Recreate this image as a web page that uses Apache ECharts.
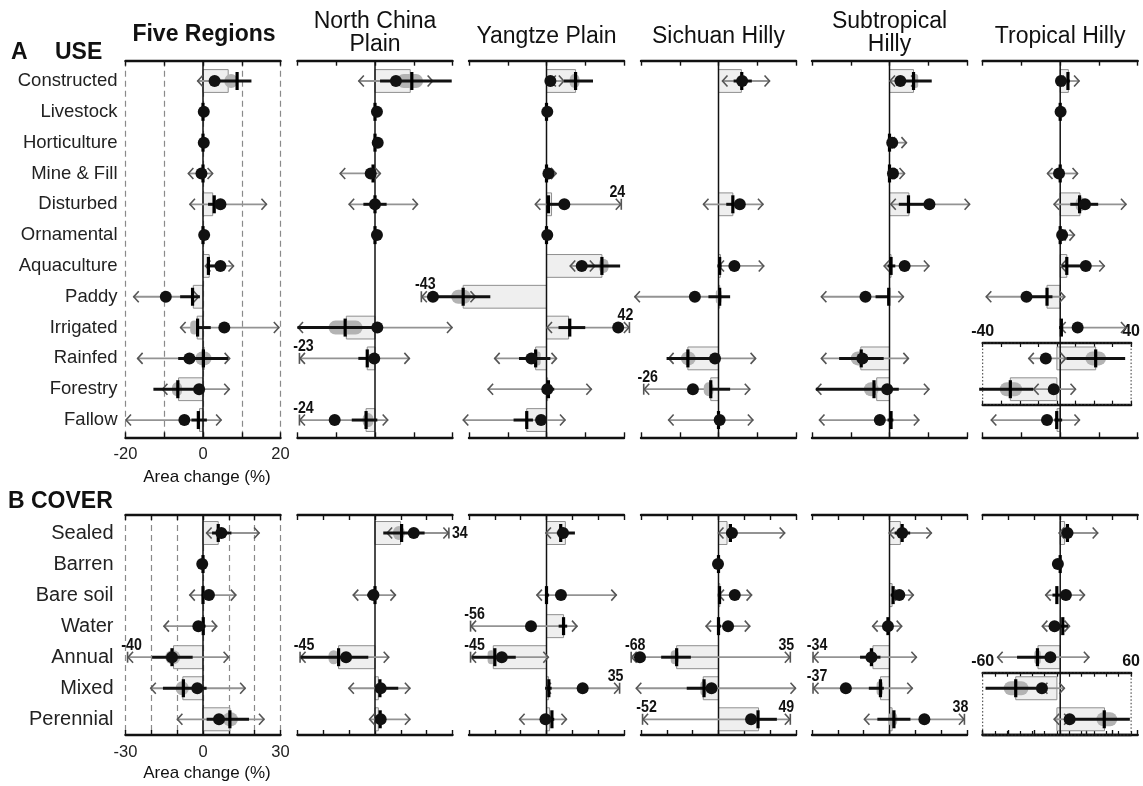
<!DOCTYPE html>
<html><head><meta charset="utf-8">
<script src="https://cdn.jsdelivr.net/npm/echarts@6/dist/echarts.min.js"></script>
<style>html,body{margin:0;padding:0;background:#fff}#c{width:1143px;height:786px}</style>
</head><body><div id="c"></div>
<script>
const _ = null;
const useCats = ['Constructed','Livestock','Horticulture','Mine & Fill','Disturbed','Ornamental','Aquaculture','Paddy','Irrigated','Rainfed','Forestry','Fallow'];
const coverCats = ['Sealed','Barren','Bare soil','Water','Annual','Mixed','Perennial'];
const regionTitles = ['Five Regions','North China\nPlain','Yangtze Plain','Sichuan Hilly','Subtropical\nHilly','Tropical Hilly'];
const useTicks = ['-20','0','20'];
const coverTicks = ['-30','0','30'];
const useInsetTicks = ['-40','40'];
const coverInsetTicks = ['-60','60'];

// item: [bar, median, dot, blackLo, blackHi, greyLo, greyHi, pillLo, pillHi, cutLo, cutHi, labelSide]
const useFive = [
 [6.5, 8.8, 3, 3, 12.5, -1.5, 8.5, 5.5, 9, _, _],
 [0, 0, 0.2, -0.3, 0.6, _, _, _, _, _, _],
 [0, 0, 0.2, -0.3, 0.6, _, _, _, _, _, _],
 [0, 0, -0.4, -0.8, 0.5, -3.9, 2.6, _, _, _, _],
 [2.5, 2.9, 4.5, 1.3, 4.9, -3.5, 16.5, _, _, _, _],
 [0, 0, 0.3, -0.3, 0.7, _, _, _, _, _, _],
 [1.6, 1.4, 4.5, 1, 5.5, 0.5, 8, _, _, _, _],
 [-2.5, -2.7, -9.6, -5.9, -0.8, -18, -1, _, _, _, _],
 [-1.5, -1.4, 5.5, -1.5, 2, -5.9, 19.7, -3.3, -1.2, _, _],
 [0.3, 0.1, -3.5, -6.4, 6.5, -17, 7, -2, 2.2, _, _],
 [-6.3, -6.5, -1, -12.8, -0.8, -10.6, 6.9, -8, -5.4, _, _],
 [-0.9, -1.2, -4.8, -3, 1, -20, 4.8, _, _, _, _]
];
const useNCP = [
 [9.1, 9.5, 5.4, 1.3, 19.8, -4.3, 15, 5.6, 12.4, _, _],
 [0, 0, 0.5, -0.3, 0.8, _, _, _, _, _, _],
 [0, 0, 0.7, -0.3, 1, _, _, _, _, _, _],
 [0, -0.5, -1.1, -1.5, 0.2, -9.1, 1.5, _, _, _, _],
 [0, 0, 0, -3, 3, -6.8, 11.1, _, _, _, _],
 [0, 0, 0.5, -0.3, 0.8, _, _, _, _, _, _],
 _,
 _,
 [-7.4, -7.7, 0.6, -20, 0.6, -20, 20, -12, -3.2, _, _],
 [-2, -2, -0.2, -4.3, 0, -23, 9, _, _, -19.5, _],
 _,
 [-2.3, -2.3, -10.4, -6, 0.6, -24, 3.4, -3.2, -0.4, -19.5, _]
];
const useYP = [
 [7.5, 7.5, 1, 4.5, 12, 1, 4.6, 6, 8.5, _, _],
 [0, 0, 0.2, -0.3, 0.6, _, _, _, _, _, _],
 _,
 [0, 0, 0.5, -0.3, 0.8, 0, 2.6, _, _, _, _],
 [1.3, 0.5, 4.6, 0, 4.6, -3, 24, _, _, _, 19.3],
 [0, 0, 0.2, -0.3, 0.6, _, _, _, _, _, _],
 [14.3, 14.3, 9.1, 9.1, 19, 6, 12.6, 13.5, 16, _, _],
 [-21.5, -21.5, -29.3, -29.3, -14.5, -43, -18.2, -24.6, -19.5, -32.3, _],
 [5.7, 6, 18.5, 3.1, 10, 0, 42, _, _, _, 21.4],
 [-2.8, -2.8, -3.9, -7.1, 1, -13.5, 2.7, -3, -1.5, _, _],
 [0.3, 0.5, 0.2, -1, 2, -15.2, 11.7, _, _, _, _],
 [-5.1, -5.1, -1.4, -8.5, -3.5, -21.6, 4.9, _, _, _, _]
];
const useSH = [
 [5.9, 6, 6.1, 3.9, 8.6, 0.9, 13.3, _, _, _, _],
 _, _, _,
 [3.7, 3.7, 5.5, 2, 5.5, -4, 11.6, _, _, _, _],
 _,
 [0.5, 0.3, 4.1, -0.3, 0.8, 0, 11.8, _, _, _, _],
 [0.3, 0.3, -6.1, -2.6, 3, -21.7, 1, -0.7, 0.8, _, _],
 _,
 [-7.9, -7.9, -0.9, -13.4, -0.9, -13, 9.7, -9.7, -5.9, _, _],
 [-2, -2, -6.6, -2, 3, -26, 8.2, -3.8, -1.3, -19.3, _],
 [0, 0, 0.3, -0.3, 0.8, -13, 9, _, _, _, _]
];
const useSTH = [
 [6.2, 6.2, 2.8, 2, 10.9, 0, 7, 6.1, 7.4, _, _],
 _,
 [0, 0, 0.7, -0.3, 1, 0, 4.5, _, _, _, _],
 [0, 0, 0.9, -0.3, 1, 0, 4, _, _, _, _],
 [5, 4.9, 10.3, 2.4, 10.3, 0.2, 20.8, _, _, _, _],
 _,
 [0.4, 0.4, 3.9, -0.5, 1.5, -1.5, 10.3, _, _, _, _],
 [0, -0.2, -6.2, -3.6, 0, -17.7, 3.7, -0.6, 0.2, _, _],
 _,
 [-7.4, -7.3, -7, -13, -1.5, -17.7, 5, -10, -6.2, _, _],
 [-3.3, -4, -0.6, -19, 2.4, -19, 10.3, -6.6, -2.8, _, _],
 [0, 0.4, -2.5, -0.5, 1, -18.2, 7.7, _, _, _, _]
];
const useTH = [
 [2.1, 2, 0.2, -0.3, 2.5, -0.5, 5, _, _, _, _],
 [0, 0, 0.1, -0.3, 0.6, _, _, _, _, _, _],
 _,
 [0, 0, -0.3, -0.6, 0.4, -3.4, 4.6, _, _, _, _],
 [5.1, 5, 6.4, 2.6, 9.8, -1.7, 17.1, 4, 6.5, _, _],
 [0, 0, 0.5, -0.3, 0.8, 0, 3.8, _, _, _, _],
 [1.7, 1.7, 6.6, 0.5, 6.6, 0, 11.5, _, _, _, _],
 [-3.4, -3.4, -8.7, -8.7, -2, -19.2, 1.3, _, _, _, _],
 [0, 0.3, 4.5, -0.3, 0.8, 0, 17.1, _, _, _, _],
 _, _,
 [-0.8, -0.9, -3.4, -1.5, 0.5, -17.9, 5.1, _, _, _, _]
];
// Tropical Hilly Rainfed & Forestry on a -40..40 inset scale
const useTHInset = [
 [20.9, 20.9, -6, 5.1, 36.8, -15.4, 5, 15.4, 26.5, _, _],
 [-25.1, -25.1, -1.7, -41.9, -12.8, -12.8, 10.3, -30.8, -18.8, _, _]
];

const covFive = [
 [5.9, 5.9, 7.1, 3.5, 11, 1.2, 21.9, _, _, _, _],
 [0, 0, -0.3, -0.6, 0.4, _, _, _, _, _, _],
 [0, 0, 2.3, -0.5, 1, -5.3, 12.9, _, _, _, _],
 [0, 0.1, -1.8, -1, 1, -15.3, 5.5, _, _, _, _],
 [-11.4, -12, -12, -19.7, -4, -40, 10.1, -14.6, -8.8, -29.2, _],
 [-7.8, -7.6, -2.2, -15.5, 1.4, -20.4, 16.5, -10.6, -5.5, _, _],
 [10.4, 10.4, 6.2, 1.4, 17.8, -10.1, 23.8, 7.7, 13.5, _, _]
];
const covNCP = [
 [9.9, 10.3, 15, 3.2, 19.2, 4.5, 34, 7, 11.5, _, 28.6, 'r'],
 _,
 [0, 0, -0.6, -3, 0.5, -8.6, 8.1, _, _, _, _],
 _,
 [-14.1, -14.1, -11.2, -28.8, -2.6, -45, 5.5, -18, -14, -29, _],
 [1.3, 1.9, 2.2, 0, 9, -10.3, 13.7, _, _, _, _],
 [1.3, 2, 2.2, 0, 3, -2.3, 13.7, _, _, _, _]
];
const covYP = [
 [7.3, 5.5, 6.4, 4, 11, -0.4, 8, _, _, _, _],
 _,
 [0, 0, 5.6, -0.3, 1, -3.9, 27.2, _, _, _, _],
 [6.6, 6.6, -6, 4.7, 8, -56, 12, _, _, -29.4, _],
 [-20.6, -20, -17.3, -28.8, -11.9, -45, 0.9, -22.8, -20, -29.4, _],
 [0.8, 0.9, 14, -0.5, 2, -0.4, 35, _, _, _, 28.3],
 [1.2, 2.1, -0.4, -1, 3, -10.6, 7.9, _, _, _, _]
];
const covSH = [
 [3.3, 4.6, 5.2, 3, 7, -0.2, 25.8, _, _, _, _],
 [0, 0, -0.2, -0.5, 0.4, _, _, _, _, _, _],
 [0.5, 0.4, 6.3, -0.3, 1, 0, 13, _, _, _, _],
 [0, 0, 3.7, -0.5, 1, -5, 12.3, _, _, _, _],
 [-16.2, -16.2, -30.4, -22.2, -10.7, -68, 35, -18.5, -15.4, -33.8, 27.8],
 [-5.9, -5.6, -2.7, -12.3, -2.7, -32, 30, -7, -4.6, _, _],
 [15.5, 15.3, 12.6, 12.6, 22.6, -52, 49, _, _, -29.4, 27.8]
];
const covSTH = [
 [4.2, 4.9, 4.9, 2, 8, -0.3, 16.4, _, _, _, _],
 _,
 [1, 1.4, 3.8, 0.5, 2, 0.5, 9.4, _, _, _, _],
 [0, -0.6, -0.6, -1.5, 0.5, -6.7, 4.9, _, _, _, _],
 [-6.4, -7, -7, -11.4, -3.5, -34, 10.6, _, _, -29.6, _],
 [-3.5, -3.5, -16.9, -8, -2.2, -37, 9, -5, -2.5, -29.6, _],
 [1, 1.7, 13.5, -4.7, 8.1, -9.9, 38, -0.5, 3, _, 29]
];
const covTH = [
 [1.7, 2.8, 2.8, 0.5, 5, -0.6, 14.7, _, _, _, _],
 [0, 0, -0.9, -1.3, 0, _, _, _, _, _, _],
 [0, -1.3, 2.2, -3, 1, -5.8, 9.6, _, _, _, _],
 [0, 1, -2.2, -1, 3, -7.1, 3.8, _, _, _, _],
 [-8.6, -8.8, -3.8, -16.7, -3.8, -24.4, 11.3, -10, -7.5, _, _],
 _, _
];
// Tropical Hilly Mixed & Perennial on a -60..60 inset scale
const covTHInset = [
 [-33.3, -33.3, -12.1, -57.7, -12.1, -12.1, 6.4, -43, -23, _, _],
 [38.5, 38.3, 10.3, 10.3, 59, -2.6, 10.3, 32, 48.7, _, _]
];

const useData = [useFive, useNCP, useYP, useSH, useSTH, useTH];
const covData = [covFive, covNCP, covYP, covSH, covSTH, covTH];

// ---------- layout ----------
const panelLeft = [125.5, 297.5, 469, 641, 812, 982.7];
const panelW = 155;
const rowA = {top: 60.7, bottom: 437.3, yMin: -0.659, yMax: 11.56, xMin: -20, xMax: 20};
const rowB = {top: 515, bottom: 735, yMin: -0.58, yMax: 6.506, xMin: -30, xMax: 30};
const FONT = "'Liberation Sans', Arial, Helvetica, sans-serif";
const NARROW = "'Liberation Sans Narrow', 'Arial Narrow', 'Liberation Sans', sans-serif";

const grids = [], xAxes = [], yAxes = [], series = [];

function makeRender(rows, offset, isMain, isInset) {
  return function (params, api) {
    const i = params.dataIndex;
    const r = rows[i];
    const cs = params.coordSys;
    const kids = [];
    const yv = i + offset;
    const cy = api.coord([0, yv])[1];
    const X = v => api.coord([v, yv])[0];
    const band = api.size([0, 1])[1];
    if (i === 0 && isMain) {
      const xz = X(0);
      kids.push({type: 'line', z2: 2, shape: {x1: xz, y1: cs.y, x2: xz, y2: cs.y + cs.height},
        style: {stroke: '#111', lineWidth: 1.5}});
    }
    if (i === 0 && isInset) {
      kids.push({type: 'rect', z2: 0, shape: {x: cs.x, y: cs.y, width: cs.width, height: cs.height},
        style: {fill: 'none', stroke: '#333', lineWidth: 1, lineDash: [1.5, 2]}});
    }
    if (!r) return {type: 'group', children: kids};
    const [b, m, d, bl, bh, gl, gh, pl, ph, kl, kh, side] = r;
    const x0 = X(0);
    if (b !== null && b !== 0) {
      const xb = X(b);
      const h = band * 0.74;
      kids.push({type: 'rect', z2: 1, shape: {x: Math.min(x0, xb), y: cy - h / 2, width: Math.abs(xb - x0), height: h},
        style: {fill: '#efefef', stroke: '#8f8f8f', lineWidth: 1}});
    }
    const chev = 5.5;
    const arrowStyle = {stroke: '#555', lineWidth: 1.6, fill: 'none'};
    const labFont = 'bold 16.5px ' + NARROW;
    const sx = 0.86;
    if (gl !== null && gh !== null) {
      const xl = X(kl !== null ? kl : gl), xh = X(kh !== null ? kh : gh);
      kids.push({type: 'line', z2: 3, shape: {x1: xl, y1: cy, x2: xh, y2: cy}, style: {stroke: '#939393', lineWidth: 1.8}});
      kids.push({type: 'polyline', z2: 3, shape: {points: [[xl + chev, cy - chev], [xl + 0.5, cy], [xl + chev, cy + chev]]}, style: arrowStyle});
      kids.push({type: 'polyline', z2: 3, shape: {points: [[xh - chev, cy - chev], [xh - 0.5, cy], [xh - chev, cy + chev]]}, style: arrowStyle});
      if (kl !== null) {
        kids.push({type: 'line', z2: 3, shape: {x1: xl, y1: cy - chev, x2: xl, y2: cy + chev}, style: arrowStyle});
        kids.push({type: 'text', z2: 8, x: xl + 4, y: cy - 12, scaleX: sx,
          style: {text: String(gl), font: labFont, fill: '#111', align: 'center', verticalAlign: 'middle', textAlign: 'center', textVerticalAlign: 'middle'}});
      }
      if (kh !== null) {
        kids.push({type: 'line', z2: 3, shape: {x1: xh, y1: cy - chev, x2: xh, y2: cy + chev}, style: arrowStyle});
        if (side === 'r') {
          kids.push({type: 'text', z2: 8, x: xh + 3, y: cy, scaleX: sx,
            style: {text: String(gh), font: labFont, fill: '#111', align: 'left', verticalAlign: 'middle', textAlign: 'left', textVerticalAlign: 'middle'}});
        } else {
          kids.push({type: 'text', z2: 8, x: xh - 4, y: cy - 12, scaleX: sx,
            style: {text: String(gh), font: labFont, fill: '#111', align: 'center', verticalAlign: 'middle', textAlign: 'center', textVerticalAlign: 'middle'}});
        }
      }
    }
    if (pl !== null && ph !== null) {
      const a = X(pl), c = X(ph);
      kids.push({type: 'rect', z2: 4, shape: {x: a, y: cy - 7, width: c - a, height: 14, r: 7}, style: {fill: '#b3b3b3'}});
    }
    if (bl !== null && bh !== null) {
      kids.push({type: 'line', z2: 5, shape: {x1: X(bl), y1: cy, x2: X(bh), y2: cy}, style: {stroke: '#111', lineWidth: 3}});
    }
    if (m !== null) {
      const xm = X(m);
      kids.push({type: 'line', z2: 6, shape: {x1: xm, y1: cy - 9, x2: xm, y2: cy + 9}, style: {stroke: '#000', lineWidth: 3.2}});
    }
    if (d !== null) {
      kids.push({type: 'circle', z2: 7, shape: {cx: X(d), cy: cy, r: 6}, style: {fill: '#111'}});
    }
    return {type: 'group', children: kids};
  };
}

function addPanel(o) {
  const g = grids.length;
  grids.push({left: o.left, top: o.top, width: panelW, height: o.height, show: false, containLabel: false});
  const common = {
    gridIndex: g, type: 'value', min: o.xMin, max: o.xMax, interval: 10,
    axisLine: {show: true, onZero: false, lineStyle: {color: '#111', width: 2.4}},
    axisTick: {show: true, inside: true, length: 5, lineStyle: {color: '#111', width: 1.4}},
    splitLine: {show: false}, axisLabel: {show: false}
  };
  const bottom = Object.assign({}, common, {position: 'bottom'});
  if (o.five) {
    bottom.axisLabel = {show: true, color: '#222', fontSize: 16.5, fontFamily: FONT, margin: 9,
      showMinLabel: true, showMaxLabel: true,
      formatter: v => (o.ticks.indexOf(String(v)) >= 0 ? String(v) : '')};
    bottom.splitLine = {show: true, lineStyle: {type: [6, 4], color: '#8a8a8a', width: 1.2}};
  }
  const top = Object.assign({}, common, {position: 'top'});
  if (o.inset) {
    top.axisLabel = {show: true, color: '#111', fontSize: 16, fontWeight: 'bold', fontFamily: NARROW, margin: 3,
      showMinLabel: true, showMaxLabel: true,
      formatter: v => (o.insetTicks.indexOf(String(v)) >= 0 ? String(v) : '')};
    top.axisTick = {show: true, inside: true, length: 4, lineStyle: {color: '#111', width: 1.2}};
    bottom.axisTick = {show: true, inside: true, length: 4, lineStyle: {color: '#111', width: 1.2}};
  }
  const xb = xAxes.length;
  xAxes.push(bottom, top);
  const y = {gridIndex: g, type: 'value', min: o.yMin, max: o.yMax, inverse: true,
    axisLine: {show: false}, axisTick: {show: false}, splitLine: {show: false}, axisLabel: {show: false}};
  if (o.five) {
    y.axisLabel = {show: true, customValues: o.cats.map((c, k) => k), formatter: v => o.cats[Math.round(v)],
      color: '#222', fontSize: o.catSize, fontFamily: FONT, margin: o.catMargin};
  }
  yAxes.push(y);
  series.push({
    type: 'custom', xAxisIndex: xb, yAxisIndex: g, clip: false, silent: true, animation: false,
    renderItem: makeRender(o.rows, o.offset, !o.inset, !!o.inset),
    encode: {x: 0, y: 1},
    data: o.rows.map((r, k) => [0, k + o.offset])
  });
}

const pxA = (rowA.bottom - rowA.top) / (rowA.yMax - rowA.yMin);
const pxB = (rowB.bottom - rowB.top) / (rowB.yMax - rowB.yMin);
for (let p = 0; p < 6; p++) {
  addPanel({left: panelLeft[p], top: rowA.top, height: rowA.bottom - rowA.top, xMin: rowA.xMin, xMax: rowA.xMax,
    yMin: rowA.yMin, yMax: rowA.yMax, rows: useData[p], offset: 0, five: p === 0, cats: useCats, catSize: 18.5, catMargin: 8, ticks: useTicks});
  addPanel({left: panelLeft[p], top: rowB.top, height: rowB.bottom - rowB.top, xMin: rowB.xMin, xMax: rowB.xMax,
    yMin: rowB.yMin, yMax: rowB.yMax, rows: covData[p], offset: 0, five: p === 0, cats: coverCats, catSize: 20, catMargin: 12, ticks: coverTicks});
}
// insets
addPanel({left: panelLeft[5], top: rowA.top + (8.5 - rowA.yMin) * pxA, height: 2 * pxA, xMin: -40, xMax: 40,
  yMin: 8.5, yMax: 10.5, rows: useTHInset, offset: 9, inset: true, insetTicks: useInsetTicks});
addPanel({left: panelLeft[5], top: rowB.top + (4.5 - rowB.yMin) * pxB, height: rowB.bottom - (rowB.top + (4.5 - rowB.yMin) * pxB), xMin: -60, xMax: 60,
  yMin: 4.5, yMax: rowB.yMax, rows: covTHInset, offset: 5, inset: true, insetTicks: coverInsetTicks});

function txt(text, x, y, font, align) {
  return {type: 'text', x: x, y: y, silent: true,
    style: {text: text, font: font, fill: '#111', align: align || 'center', verticalAlign: 'middle',
      textAlign: align || 'center', textVerticalAlign: 'middle', lineHeight: 23}};
}
const centers = panelLeft.map(l => l + panelW / 2);
const graphics = [
  txt('A', 11, 53, 'bold 23px ' + FONT, 'left'),
  txt('USE', 55, 53, 'bold 23px ' + FONT, 'left'),
  txt('B COVER', 8, 502, 'bold 23px ' + FONT, 'left'),
  txt(regionTitles[0], centers[0] + 1, 35, 'bold 23px ' + FONT),
  txt('North China', centers[1], 22, '23px ' + FONT),
  txt('Plain', centers[1], 45, '23px ' + FONT),
  txt(regionTitles[2], centers[2], 37, '23px ' + FONT),
  txt(regionTitles[3], centers[3], 37, '23px ' + FONT),
  txt('Subtropical', centers[4], 22, '23px ' + FONT),
  txt('Hilly', centers[4], 45, '23px ' + FONT),
  txt(regionTitles[5], centers[5], 37, '23px ' + FONT),
  txt('Area change (%)', centers[0] + 4, 477, '17px ' + FONT),
  txt('Area change (%)', centers[0] + 4, 773, '17px ' + FONT)
];

const chart = echarts.init(document.getElementById('c'), null, {renderer: 'canvas'});
chart.setOption({
  backgroundColor: '#fff',
  animation: false,
  grid: grids,
  xAxis: xAxes,
  yAxis: yAxes,
  series: series,
  graphic: graphics
});
</script>
</body></html>
